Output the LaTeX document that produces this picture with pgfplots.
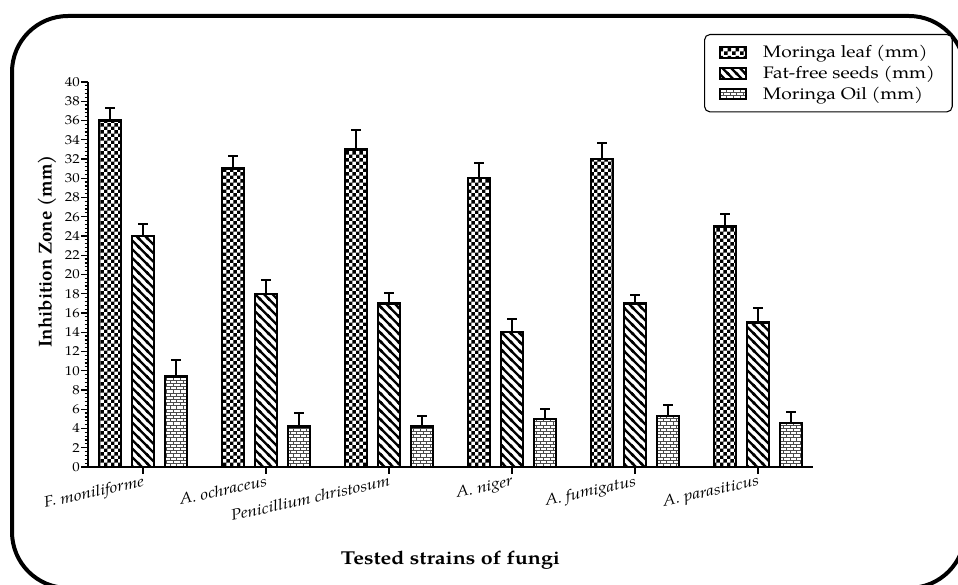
\documentclass[border=0pt]{standalone}
\usepackage{fontspec}
\setmainfont{texgyrepagella}[Extension=.otf, UprightFont=*-regular, BoldFont=*-bold, ItalicFont=*-italic, BoldItalicFont=*-bolditalic, FakeStretch=1.15]
\newfontfamily\plainpal{texgyrepagella}[Extension=.otf, UprightFont=*-regular, BoldFont=*-bold]
\usepackage{pgfplots}
\pgfplotsset{compat=1.18}
\usetikzlibrary{patterns}

\pgfdeclarepatternformonly{mychecker}{\pgfpointorigin}{\pgfpoint{5.6pt}{5.6pt}}{\pgfpoint{5.6pt}{5.6pt}}{%
  \pgfpathrectangle{\pgfpointorigin}{\pgfpoint{2.8pt}{2.8pt}}%
  \pgfpathrectangle{\pgfpoint{2.8pt}{2.8pt}}{\pgfpoint{2.8pt}{2.8pt}}%
  \pgfusepath{fill}}
\pgfdeclarepatternformonly{mystripes}{\pgfpoint{-1pt}{-1pt}}{\pgfpoint{7.5pt}{7.5pt}}{\pgfpoint{6.5pt}{6.5pt}}{%
  \pgfsetlinewidth{1.7pt}%
  \pgfpathmoveto{\pgfpoint{-1pt}{7.5pt}}\pgfpathlineto{\pgfpoint{7.5pt}{-1pt}}%
  \pgfpathmoveto{\pgfpoint{-1pt}{1pt}}\pgfpathlineto{\pgfpoint{1pt}{-1pt}}%
  \pgfpathmoveto{\pgfpoint{5.5pt}{7.5pt}}\pgfpathlineto{\pgfpoint{7.5pt}{5.5pt}}%
  \pgfusepath{stroke}}
\pgfdeclarepatternformonly{mybricks}{\pgfpoint{-0.5pt}{-0.5pt}}{\pgfpoint{5.5pt}{5.3pt}}{\pgfpoint{5pt}{4.8pt}}{%
  \pgfsetlinewidth{0.7pt}%
  \pgfpathmoveto{\pgfpoint{-0.5pt}{0pt}}\pgfpathlineto{\pgfpoint{5.5pt}{0pt}}%
  \pgfpathmoveto{\pgfpoint{-0.5pt}{2.4pt}}\pgfpathlineto{\pgfpoint{5.5pt}{2.4pt}}%
  \pgfpathmoveto{\pgfpoint{0pt}{0pt}}\pgfpathlineto{\pgfpoint{0pt}{2.4pt}}%
  \pgfpathmoveto{\pgfpoint{2.5pt}{2.4pt}}\pgfpathlineto{\pgfpoint{2.5pt}{4.8pt}}%
  \pgfusepath{stroke}}

\pgfplotsset{
  myleg/.style={legend image code/.code={%
    \draw[##1, sharp corners, line width=1.5pt] (0pt,-4.1pt) rectangle (19.5pt,4.1pt);}},
  myerr/.style={error bars/.cd, y dir=plus, y explicit,
    error bar style={line width=1.5pt, black},
    error mark options={rotate=90, line width=1.5pt, mark size=3.6pt, black}},
}

\begin{document}
\begin{tikzpicture}
\useasboundingbox (0pt,0pt) rectangle (718.5pt,438.75pt);
\begin{scope}
\clip (0pt,0pt) rectangle (718.5pt,438.75pt);
\draw[line width=3pt, rounded corners=42pt] (9pt,-2.25pt) rectangle (723.75pt,426.75pt);
\end{scope}
\begin{axis}[
  scale only axis, width=543.75pt, height=288.75pt,
  at={(66pt,88.5pt)}, anchor=south west,
  xmin=-0.447, xmax=5.447, ymin=0, ymax=40,
  axis x line*=bottom, axis y line*=left,
  axis line style={line width=1.2pt, -},
  xtick={0,1,2,3,4,5},
  xticklabels={F. moniliforme, A. ochraceus, Penicillium christosum, A. niger, A. fumigatus, A. parasiticus},
  ytick={0,2,...,40}, minor y tick num=4,
  tick align=outside, tick style={black, line width=0.9pt},
  major tick length=5pt, minor tick length=2.5pt,
  ybar, bar width=0.175,
  /pgf/number format/assume math mode=true,
  yticklabel style={font=\fontsize{9.7}{11}\selectfont, inner sep=1pt},
  xticklabel style={font=\fontsize{11.4}{13}\selectfont\itshape, rotate=12.5, anchor=north east, inner sep=0.5pt},
  xlabel={Tested strains of fungi},
  ylabel={Inhibition Zone (mm)},
  xlabel style={at={(axis description cs:0.5,-0.2416)}, anchor=center, font=\fontsize{14}{16}\selectfont\bfseries},
  ylabel style={at={(axis description cs:-0.0566,0.56)}, anchor=center, font=\plainpal\fontsize{14}{16}\selectfont\bfseries},
  legend style={at={(0.8497,1.1247)}, anchor=north west, draw=black, line width=0.8pt,
    rounded corners=4pt, font=\fontsize{12.5}{15}\selectfont, inner xsep=11pt, inner ysep=6pt,
    row sep=0.8pt, /tikz/every odd column/.append style={column sep=10pt}},
  legend cell align=left,
]
\addplot[pattern=mychecker, draw=black, line width=1.8pt, bar shift=-0.268, myleg, myerr]
  coordinates {(0,36) +- (0,1.3) (1,31) +- (0,1.3) (2,33) +- (0,2.0) (3,30) +- (0,1.6) (4,32) +- (0,1.7) (5,25) +- (0,1.3)};
\addlegendentry{Moringa leaf (mm)}
\addplot[pattern=mystripes, draw=black, line width=1.8pt, bar shift=0, myleg, myerr]
  coordinates {(0,24) +- (0,1.2) (1,18) +- (0,1.4) (2,17) +- (0,1.1) (3,14) +- (0,1.4) (4,17) +- (0,0.9) (5,15) +- (0,1.5)};
\addlegendentry{Fat-free seeds (mm)}
\addplot[pattern=mybricks, pattern color=black!70, draw=black, line width=1.8pt, bar shift=0.268, myleg, myerr]
  coordinates {(0,9.4) +- (0,1.7) (1,4.2) +- (0,1.4) (2,4.2) +- (0,1.1) (3,5.0) +- (0,1.0) (4,5.3) +- (0,1.1) (5,4.6) +- (0,1.1)};
\addlegendentry{Moringa Oil (mm)}
\end{axis}
\end{tikzpicture}
\end{document}
